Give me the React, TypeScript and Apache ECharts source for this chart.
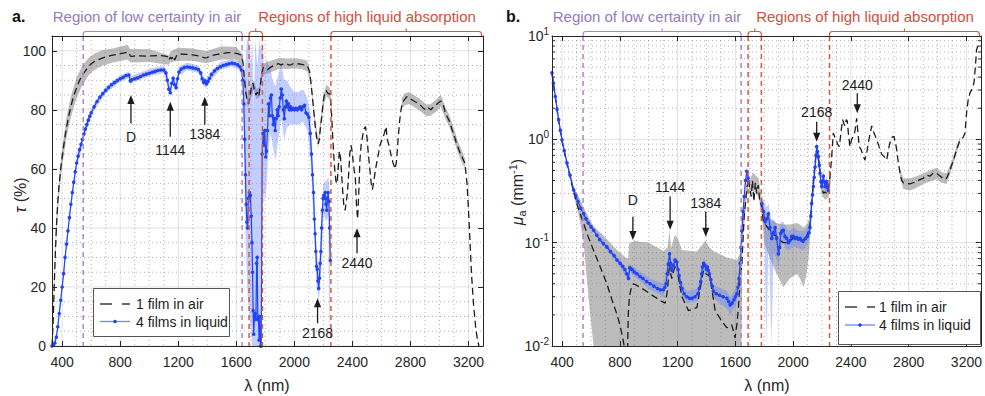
import React, { useEffect, useRef } from "react";
import * as echarts from "echarts";

type Pt = [number, number];
type Band = [number, number, number];

const FONT = '"Liberation Sans", Arial, Helvetica, sans-serif';
const C_AX = "#262626";
const C_BLACK = "#1c1c1c";
const C_BLUE = "#2142f5";
const C_GREY_BAND = "rgba(115,115,115,0.48)";
const C_BLUE_BAND = "rgba(95,125,255,0.38)";
const C_PURPLE = "#a68ac6";
const C_RED = "#d9563f";
const C_PURPLE_TXT = "#9678be";
const C_RED_TXT = "#d24f3c";

const xTickValues = [400, 800, 1200, 1600, 2000, 2400, 2800, 3200];
const xMinorValues = [500, 600, 700, 900, 1000, 1100, 1300, 1400, 1500, 1700, 1800, 1900, 2100, 2200, 2300, 2500, 2600, 2700, 2900, 3000, 3100];
const yTickValuesA = [0, 20, 40, 60, 80, 100];
const yMinorValuesA = [5, 10, 15, 25, 30, 35, 45, 50, 55, 65, 70, 75, 85, 90, 95];
const yTickValuesB = [0.01, 0.1, 1, 10];
const yMinorValuesB = [0.02, 0.03, 0.04, 0.05, 0.06, 0.07, 0.08, 0.09, 0.2, 0.3, 0.4, 0.5, 0.6, 0.7, 0.8, 0.9, 2, 3, 4, 5, 6, 7, 8, 9];

const lowCertaintyBounds = [545, 1640];
const absorptionBounds = [1688, 1780, 2252];
const bracketStart = [545, 1688, 2252];
const bracketEnd = [1640, 1780, 3290];
const bracketKind = [0, 1, 1];

// ---------- panel a : transmittance tau (%) ----------
const airTauA: Pt[] = [
  [330, 0], [338, 8], [345, 20], [352, 30], [360, 40], [370, 49], [380, 55], [390, 60], [400, 64], [410, 67.5],
  [420, 71], [430, 74], [440, 76.5], [450, 79], [460, 81], [470, 83], [480, 84.7], [500, 87.5], [520, 90], [540, 91.8],
  [560, 93.2], [580, 94.5], [600, 95.6], [620, 96.3], [650, 97], [680, 97.6], [710, 98], [740, 98.4], [770, 98.7], [800, 99],
  [830, 99.3], [850, 99.5], [860, 99.4], [870, 98.2], [885, 98.1], [900, 98.3], [940, 98.3], [980, 98.2], [1020, 98.3], [1060, 98.4],
  [1100, 98.3], [1125, 98], [1135, 96.8], [1145, 97.8], [1155, 97.2], [1165, 98.3], [1175, 96.9], [1190, 98.5], [1215, 98.9], [1250, 98.8],
  [1300, 98.6], [1350, 98.2], [1380, 97.6], [1400, 97.7], [1430, 98.4], [1470, 98.8], [1510, 99.1], [1540, 99.4], [1580, 99.3], [1610, 99],
  [1630, 98.6], [1645, 96.5], [1655, 91], [1665, 86], [1675, 83], [1685, 82], [1695, 84.5], [1705, 88], [1715, 89], [1725, 86.5],
  [1735, 85], [1745, 86], [1755, 84.5], [1765, 88], [1775, 92], [1785, 94.3], [1800, 94], [1815, 93.6], [1830, 94.2], [1850, 94.8],
  [1870, 95.4], [1890, 95.6], [1910, 95.2], [1930, 95.7], [1950, 95.5], [1970, 95.1], [1990, 95.6], [2010, 95.3], [2030, 95.6], [2050, 95.4],
  [2070, 95.2], [2090, 94.8], [2105, 93], [2115, 89], [2125, 84], [2135, 79], [2145, 74], [2155, 70], [2165, 68.5], [2172, 70],
  [2180, 74], [2190, 78], [2200, 83], [2210, 86], [2220, 86.5], [2232, 85.5], [2245, 85.5], [2255, 80], [2263, 72], [2270, 66],
  [2278, 60], [2286, 56], [2294, 55], [2302, 60], [2310, 66], [2318, 64], [2326, 58], [2334, 52], [2342, 47], [2350, 46],
  [2358, 49], [2366, 52], [2374, 58], [2382, 65], [2390, 68], [2398, 66], [2406, 62], [2414, 59], [2420, 57], [2428, 48],
  [2436, 43], [2444, 52], [2452, 63], [2460, 68], [2470, 71], [2480, 73.5], [2490, 74.3], [2500, 71], [2510, 65], [2520, 60],
  [2530, 55], [2538, 53], [2548, 56], [2560, 60], [2575, 64], [2590, 68], [2605, 70], [2620, 72], [2632, 74.3], [2640, 70],
  [2652, 68], [2665, 65], [2680, 62], [2695, 60], [2705, 63], [2715, 70], [2725, 76], [2735, 80], [2745, 82.5], [2760, 83.5],
  [2775, 84.5], [2790, 84], [2810, 83.4], [2830, 82.8], [2850, 82.3], [2870, 81.5], [2890, 80.5], [2910, 79.8], [2925, 80.6], [2940, 80],
  [2955, 80.8], [2970, 81.2], [2990, 82.3], [3010, 83], [3025, 82], [3040, 79], [3055, 77.5], [3070, 76], [3085, 73.5], [3100, 71.5],
  [3115, 69], [3130, 67], [3145, 65], [3160, 63.5], [3175, 62], [3190, 55], [3200, 46], [3210, 36], [3220, 25], [3235, 14],
  [3250, 6], [3262, 2], [3272, 0],
];

const airBandA1: Band[] = [
  [330, 0, 0], [345, 17, 23], [360, 37, 43], [380, 52, 58], [400, 61, 67], [430, 70.5, 77.5], [460, 77.5, 84.5], [500, 84, 91],
  [540, 88.5, 95], [580, 91.5, 97.5], [620, 93.5, 99], [680, 95, 100.3], [750, 96, 100.8], [850, 97, 102], [870, 96, 100.6],
  [1000, 96.2, 100.5], [1135, 95.3, 98.5], [1145, 96, 99.6], [1165, 96.3, 100.3], [1200, 96.5, 101], [1300, 96.6, 100.8],
  [1390, 95.8, 99.8], [1500, 97, 101.5], [1600, 97, 101.3], [1640, 95, 99], [1655, 88.5, 93], [1680, 80.5, 84], [1700, 84, 88],
  [1720, 86.5, 90], [1740, 83.5, 87], [1760, 84.5, 88], [1780, 91.5, 95.5], [1800, 92, 96], [1850, 93, 96.8], [1900, 94, 97.6],
  [1950, 93.8, 97.4], [2000, 94, 97.5], [2050, 93.8, 97.2], [2090, 93, 96.6], [2110, 89.5, 92.5], [2140, 75, 78], [2165, 67, 70],
  [2200, 81, 85], [2220, 84.5, 88.5], [2245, 83.5, 87.5], [2258, 78, 81],
];
const airBandA2: Band[] = [
  [2740, 80.5, 84], [2760, 81.5, 85.5], [2790, 82, 86], [2830, 80.8, 84.8], [2870, 79.5, 83.5], [2910, 77.8, 81.8], [2940, 78, 82],
  [2970, 79.2, 83.2], [3010, 81, 85], [3040, 77, 81], [3070, 74, 78], [3100, 69.5, 73.5], [3130, 65, 69], [3160, 61.5, 65.5], [3175, 60.5, 63.5],
];

const liquidTauA: Pt[] = [
  [330, 0], [340, 0.3], [350, 1], [360, 3], [370, 6.5], [380, 11], [390, 15.5], [400, 20], [410, 24.5], [420, 30],
  [430, 34.5], [440, 39], [450, 43.5], [460, 48], [470, 52], [480, 55.5], [490, 59], [500, 62], [510, 64.3], [520, 66.5],
  [530, 68.3], [540, 70], [550, 71.8], [560, 73.5], [570, 75], [580, 76.5], [590, 77.8], [600, 79], [620, 81], [640, 82.8],
  [660, 84.3], [680, 85.5], [700, 86.6], [720, 87.6], [740, 88.5], [760, 89.2], [780, 89.9], [800, 90.5], [820, 91], [840, 91.6],
  [860, 91.8], [870, 89.8], [880, 90.2], [900, 90.5], [920, 90.8], [940, 91.3], [960, 91.8], [980, 92.1], [1000, 92.4], [1020, 92.7],
  [1040, 93], [1060, 93.3], [1080, 93.5], [1100, 93.5], [1115, 92.5], [1125, 90], [1135, 87], [1145, 85.8], [1155, 89], [1165, 90.7],
  [1175, 88.5], [1185, 87.5], [1195, 90.5], [1205, 92.8], [1220, 93.8], [1240, 94.3], [1260, 94.5], [1280, 94.4], [1300, 94.2], [1320, 94],
  [1340, 93.6], [1355, 92.5], [1365, 90.5], [1375, 89.3], [1385, 89.8], [1395, 88.8], [1405, 89.6], [1415, 90.6], [1430, 92], [1450, 93.2],
  [1470, 94], [1490, 94.6], [1510, 95], [1530, 95.3], [1550, 95.6], [1570, 95.8], [1590, 95.6], [1610, 95.2], [1625, 94.6], [1635, 93.5],
  [1645, 90], [1652, 82], [1658, 70], [1663, 58], [1668, 48], [1673, 42], [1678, 40], [1683, 50], [1690, 52], [1697, 51],
  [1703, 44], [1708, 35], [1712, 25], [1716, 12], [1720, 4], [1725, 10], [1730, 11], [1735, 9], [1740, 28], [1744, 30],
  [1748, 9], [1752, 10], [1757, 2], [1762, 10], [1767, 0], [1772, 0], [1778, 65], [1784, 72], [1790, 68], [1796, 73],
  [1803, 64], [1808, 66], [1815, 73], [1822, 82], [1828, 78], [1835, 84], [1842, 85], [1848, 78], [1855, 75], [1862, 77],
  [1868, 73], [1875, 77], [1882, 80], [1889, 78], [1896, 81], [1903, 84], [1910, 87], [1917, 85], [1924, 80], [1931, 77],
  [1938, 81], [1945, 83], [1952, 81], [1959, 82], [1966, 80], [1973, 81], [1980, 80], [1990, 80.5], [2000, 80], [2010, 80.5],
  [2020, 80], [2030, 80.5], [2040, 81], [2050, 80], [2060, 81], [2070, 81.5], [2080, 79], [2090, 78.5], [2100, 77.5], [2110, 72],
  [2118, 65], [2125, 58], [2132, 52], [2138, 43], [2143, 38], [2148, 32], [2153, 27], [2158, 26], [2163, 22], [2168, 19.5],
  [2173, 23], [2178, 28], [2183, 32], [2188, 40], [2193, 46], [2198, 50], [2203, 51], [2208, 50], [2213, 52], [2218, 48],
  [2223, 46], [2228, 50], [2233, 52], [2238, 49], [2243, 40], [2248, 29],
];

const liquidBandA: Band[] = [
  [330, 0, 0.5], [360, 2, 4], [400, 18.5, 21.5], [450, 42, 45], [500, 60.5, 63.5], [560, 72, 75], [620, 79.8, 82.3],
  [700, 85.5, 87.8], [800, 89.5, 91.7], [860, 90.8, 93], [870, 88.6, 91.3], [900, 89.5, 92], [1000, 91.4, 93.8], [1100, 92.5, 95],
  [1120, 89.5, 93.5], [1145, 84.5, 87.5], [1165, 89.6, 92.3], [1185, 86, 89.5], [1205, 91.5, 94.5], [1260, 93.4, 96],
  [1340, 92.5, 95], [1375, 88, 91], [1395, 87.5, 90.5], [1415, 89.5, 92.5], [1490, 93.5, 96.2], [1570, 94.7, 97.2],
  [1625, 93.5, 96.2], [1645, 88, 92], [1655, 60, 90], [1665, 35, 98], [1675, 20, 104], [1690, 10, 103], [1700, 5, 95],
  [1710, 0, 104], [1720, 0, 80], [1730, 0, 104], [1745, 0, 95], [1760, 0, 104], [1770, 0, 100], [1780, 45, 104],
  [1790, 52, 95], [1800, 50, 92], [1810, 55, 98], [1820, 65, 95], [1835, 72, 94], [1850, 68, 90], [1870, 63, 88],
  [1890, 70, 92], [1910, 77, 96], [1930, 70, 90], [1950, 74, 90], [1970, 75, 88], [2000, 75, 86], [2030, 75, 86],
  [2060, 76, 87], [2090, 73, 84], [2110, 64, 79], [2130, 45, 60], [2150, 22, 35], [2168, 15, 25], [2185, 25, 42],
  [2200, 45, 55], [2220, 42, 56], [2235, 44, 57], [2240, 0, 55], [2248, 25, 35],
];

// ---------- panel b : absorption coefficient mu_a (mm^-1) ----------
const airMuB: Pt[] = [
  [330, 4.3], [353, 2.55], [376, 1.5], [399, 0.96], [434, 0.57], [480, 0.31], [510, 0.22], [549, 0.153], [580, 0.115], [618, 0.084],
  [660, 0.06], [710, 0.04], [745, 0.028], [779, 0.0204], [800, 0.016], [820, 0.012], [832, 0.0095], [840, 0.005], [852, 0.007], [858, 0.02],
  [866, 0.03], [880, 0.037], [895, 0.04], [941, 0.037], [1010, 0.032], [1079, 0.0275], [1114, 0.026], [1130, 0.035], [1144, 0.063], [1152, 0.05],
  [1160, 0.045], [1175, 0.055], [1195, 0.063], [1212, 0.04], [1230, 0.03], [1275, 0.022], [1333, 0.0235], [1355, 0.035], [1379, 0.054], [1395, 0.05],
  [1425, 0.047], [1445, 0.03], [1460, 0.022], [1506, 0.0174], [1541, 0.015], [1575, 0.016], [1598, 0.012], [1612, 0.017], [1621, 0.0235], [1633, 0.045],
  [1645, 0.063], [1661, 0.18], [1679, 0.33], [1690, 0.42], [1700, 0.33], [1710, 0.28], [1718, 0.4], [1728, 0.25], [1738, 0.38], [1748, 0.3],
  [1758, 0.36], [1768, 0.26], [1783, 0.22], [1793, 0.16], [1815, 0.145], [1840, 0.13], [1863, 0.12], [1886, 0.115], [1910, 0.105], [1932, 0.1],
  [1955, 0.1], [1978, 0.105], [2001, 0.11], [2025, 0.115], [2048, 0.11], [2071, 0.1], [2094, 0.115], [2117, 0.15], [2140, 0.4], [2152, 0.6],
  [2163, 0.8], [2175, 0.65], [2186, 0.5], [2198, 0.34], [2210, 0.3], [2221, 0.31], [2233, 0.3], [2244, 0.32], [2256, 0.45], [2267, 0.68],
  [2278, 1.15], [2288, 1.05], [2296, 1.0], [2308, 0.9], [2320, 0.85], [2332, 1.2], [2343, 1.55], [2352, 1.4], [2360, 1.35], [2368, 1.55],
  [2375, 1.5], [2385, 1.05], [2394, 0.85], [2405, 1.0], [2417, 1.07], [2428, 1.2], [2440, 1.6], [2450, 1.1], [2458, 0.85], [2470, 0.8],
  [2484, 0.7], [2497, 0.63], [2510, 0.75], [2525, 1.0], [2544, 1.35], [2560, 1.15], [2578, 1.0], [2595, 0.85], [2613, 0.72], [2630, 0.68],
  [2648, 0.63], [2660, 0.8], [2671, 0.93], [2685, 1.05], [2698, 1.07], [2710, 0.9], [2717, 0.8], [2728, 0.6], [2740, 0.47], [2752, 0.4],
  [2763, 0.38], [2785, 0.375], [2809, 0.37], [2830, 0.38], [2855, 0.39], [2880, 0.41], [2901, 0.42], [2925, 0.45], [2947, 0.44], [2970, 0.47],
  [2994, 0.47], [3010, 0.45], [3028, 0.43], [3045, 0.41], [3063, 0.42], [3085, 0.5], [3109, 0.62], [3130, 0.78], [3155, 0.98], [3178, 1.05],
  [3190, 1.15], [3201, 1.8], [3212, 2.4], [3224, 2.8], [3240, 3.1], [3252, 3.5], [3262, 5.0], [3270, 7.4], [3280, 8.0],
];

const airBandB1: Band[] = [
  [330, 4.1, 4.6], [399, 0.9, 1.02], [480, 0.29, 0.34], [520, 0.17, 0.27], [549, 0.1, 0.22], [572, 0.043, 0.19], [595, 0.02, 0.165],
  [618, 0.005, 0.145], [700, 0.005, 0.112], [780, 0.005, 0.085], [840, 0.005, 0.072], [858, 0.005, 0.07], [864, 0.005, 0.098],
  [900, 0.005, 0.104], [1000, 0.005, 0.1], [1102, 0.005, 0.083], [1130, 0.005, 0.09], [1144, 0.005, 0.132], [1155, 0.005, 0.09],
  [1165, 0.005, 0.1], [1182, 0.005, 0.12], [1200, 0.005, 0.11], [1230, 0.005, 0.085], [1333, 0.005, 0.082], [1370, 0.005, 0.095],
  [1392, 0.005, 0.105], [1420, 0.005, 0.09], [1448, 0.005, 0.083], [1541, 0.005, 0.072], [1610, 0.005, 0.068], [1633, 0.005, 0.08],
  [1642, 0.005, 0.13], [1650, 0.1, 0.2], [1661, 0.15, 0.22], [1679, 0.28, 0.4], [1690, 0.36, 0.48], [1700, 0.28, 0.4], [1720, 0.32, 0.48],
  [1740, 0.3, 0.45], [1760, 0.28, 0.42], [1783, 0.18, 0.27], [1800, 0.1, 0.21], [1840, 0.07, 0.17], [1886, 0.05, 0.155], [1932, 0.037, 0.15],
  [1978, 0.045, 0.15], [2025, 0.05, 0.155], [2048, 0.045, 0.15], [2071, 0.037, 0.14], [2094, 0.05, 0.15], [2110, 0.08, 0.17],
  [2125, 0.16, 0.25], [2140, 0.33, 0.45], [2163, 0.7, 0.9], [2186, 0.42, 0.58], [2198, 0.29, 0.4], [2221, 0.26, 0.36], [2244, 0.27, 0.38], [2260, 0.4, 0.5],
];
const airBandB2: Band[] = [
  [2740, 0.43, 0.52], [2763, 0.33, 0.42], [2809, 0.32, 0.42], [2855, 0.34, 0.44], [2901, 0.37, 0.47], [2947, 0.39, 0.5], [2994, 0.41, 0.53],
  [3028, 0.38, 0.48], [3063, 0.37, 0.47], [3109, 0.57, 0.68], [3130, 0.72, 0.85], [3155, 0.92, 1.05],
];

const liquidMuB1: Pt[] = [
  [330, 4.4], [340, 3.5], [353, 2.6], [365, 1.95], [376, 1.55], [388, 1.22], [399, 0.99], [415, 0.78], [434, 0.59], [455, 0.45],
  [480, 0.324], [495, 0.285], [510, 0.25], [530, 0.215], [549, 0.19], [565, 0.17], [580, 0.155], [600, 0.142], [618, 0.132], [640, 0.118],
  [660, 0.107], [685, 0.098], [710, 0.091], [735, 0.082], [760, 0.075], [780, 0.068], [802, 0.063], [820, 0.059], [835, 0.055], [848, 0.05],
  [860, 0.045], [868, 0.057], [876, 0.056], [885, 0.055], [900, 0.052], [918, 0.05], [940, 0.047], [960, 0.045], [985, 0.042], [1010, 0.04],
  [1035, 0.038], [1060, 0.036], [1080, 0.035], [1102, 0.035], [1112, 0.037], [1120, 0.04], [1128, 0.05], [1135, 0.062], [1144, 0.078], [1152, 0.063],
  [1160, 0.054], [1170, 0.06], [1182, 0.068], [1195, 0.065], [1203, 0.055], [1210, 0.048], [1220, 0.041], [1230, 0.036], [1245, 0.032], [1264, 0.03],
  [1282, 0.029], [1300, 0.029], [1320, 0.03], [1340, 0.032], [1350, 0.036], [1360, 0.042], [1366, 0.05], [1372, 0.058], [1380, 0.063], [1390, 0.06],
  [1400, 0.055], [1406, 0.058], [1412, 0.054], [1420, 0.05], [1430, 0.044], [1440, 0.038], [1448, 0.034], [1468, 0.032], [1490, 0.031], [1515, 0.03],
  [1541, 0.029], [1553, 0.027], [1564, 0.025], [1577, 0.026], [1590, 0.028], [1600, 0.03], [1610, 0.032], [1618, 0.037], [1625, 0.045], [1633, 0.063],
  [1639, 0.09], [1645, 0.13], [1653, 0.2], [1661, 0.28], [1670, 0.4], [1679, 0.49], [1688, 0.42],
];
const liquidMuB2: Pt[] = [
  [1783, 0.24], [1794, 0.2], [1806, 0.16], [1817, 0.17], [1829, 0.19], [1840, 0.14], [1852, 0.11], [1863, 0.125], [1875, 0.14], [1886, 0.11],
  [1898, 0.078], [1906, 0.09], [1914, 0.123], [1923, 0.13], [1932, 0.132], [1943, 0.115], [1955, 0.11], [1966, 0.1], [1978, 0.105], [1990, 0.115],
  [2001, 0.115], [2013, 0.11], [2025, 0.112], [2036, 0.108], [2048, 0.11], [2060, 0.105], [2071, 0.105], [2085, 0.11], [2099, 0.115], [2110, 0.125],
  [2117, 0.14], [2123, 0.18], [2128, 0.24], [2134, 0.29], [2140, 0.35], [2146, 0.43], [2152, 0.54], [2158, 0.7], [2163, 0.85], [2169, 0.76],
  [2175, 0.68], [2181, 0.56], [2186, 0.47], [2192, 0.39], [2198, 0.35], [2204, 0.39], [2209, 0.44], [2215, 0.39], [2221, 0.35], [2227, 0.37],
  [2232, 0.39], [2238, 0.34], [2244, 0.32],
];

const liquidBandB1: Band[] = [
  [330, 4.2, 4.6], [399, 0.95, 1.03], [480, 0.31, 0.34], [549, 0.18, 0.2], [618, 0.125, 0.14], [710, 0.085, 0.097], [802, 0.058, 0.068],
  [860, 0.042, 0.049], [868, 0.052, 0.062], [918, 0.045, 0.055], [1010, 0.035, 0.045], [1102, 0.03, 0.04], [1144, 0.07, 0.087],
  [1160, 0.048, 0.06], [1182, 0.06, 0.076], [1230, 0.031, 0.041], [1264, 0.026, 0.034], [1340, 0.027, 0.036], [1380, 0.055, 0.07],
  [1412, 0.047, 0.06], [1448, 0.029, 0.039], [1541, 0.023, 0.034], [1564, 0.02, 0.03], [1610, 0.026, 0.037], [1633, 0.055, 0.072],
  [1645, 0.12, 0.14], [1661, 0.25, 0.3], [1679, 0.45, 0.53], [1688, 0.38, 0.46],
];
const liquidBandB2: Band[] = [
  [1783, 0.2, 0.29], [1800, 0.14, 0.25], [1815, 0.005, 0.22], [1830, 0.12, 0.24], [1850, 0.005, 0.16], [1863, 0.08, 0.17],
  [1886, 0.07, 0.15], [1898, 0.055, 0.1], [1914, 0.095, 0.16], [1932, 0.1, 0.16], [1955, 0.085, 0.135], [1978, 0.085, 0.13],
  [2001, 0.093, 0.14], [2036, 0.088, 0.13], [2071, 0.085, 0.13], [2099, 0.095, 0.14], [2117, 0.12, 0.16], [2140, 0.31, 0.39],
  [2163, 0.77, 0.93], [2186, 0.42, 0.52], [2198, 0.3, 0.4], [2209, 0.38, 0.5], [2221, 0.3, 0.4], [2232, 0.34, 0.44], [2244, 0.28, 0.36],
];

// ---------- annotations (arrow tip / tail / label anchor in data units) ----------
const arrowLabels = ["D", "1144", "1384", "2168", "2440"];
const arrowLambdaA = [874, 1145, 1383, 2160, 2432];
const arrowTipA = [85, 82.7, 84.4, 16.2, 39.9];
const arrowTailA = [75.4, 70.9, 74.9, 7.7, 31.4];
const arrowTextA = [70.9, 66.4, 71.8, 4.3, 28.0];
const arrowLambdaB = [890, 1148, 1395, 2163, 2444];
const arrowTipB = [0.106, 0.133, 0.114, 0.948, 1.79];
const arrowTailB = [0.178, 0.279, 0.2, 1.48, 2.79];
const arrowTextB = [0.259, 0.348, 0.244, 1.85, 3.36];

const NAME_AIR = "1 film in air";
const NAME_LIQ = "4 films in liquid";

function clamp(v: number, lo: number, hi: number) {
  return Math.min(Math.max(v, lo), hi);
}

function gridSeries(idx: number, xs: number[], ys: number[], yRef: number, major: boolean, edgeTicks: boolean) {
  const style = major
    ? { stroke: "rgba(0,0,0,0.12)", lineWidth: 1 }
    : { stroke: "rgba(0,0,0,0.30)", lineWidth: 1, lineDash: [1, 3] };
  return {
    type: "custom",
    xAxisIndex: idx,
    yAxisIndex: idx,
    silent: true,
    z: 1,
    data: [...xs.map((v) => [v, yRef, 0]), ...ys.map((v) => [1000, v, 1])],
    renderItem: (params: any, api: any) => {
      const cs = params.coordSys;
      if (api.value(2) === 0) {
        const px = api.coord([api.value(0), yRef])[0];
        return { type: "line", shape: { x1: px, y1: cs.y, x2: px, y2: cs.y + cs.height }, style };
      }
      const py = api.coord([1000, api.value(1)])[1];
      const children: any[] = [
        { type: "line", shape: { x1: cs.x, y1: py, x2: cs.x + cs.width, y2: py }, style },
      ];
      if (edgeTicks) {
        const ts = { stroke: C_AX, lineWidth: 1 };
        children.push({ type: "line", shape: { x1: cs.x, y1: py, x2: cs.x + 3, y2: py }, style: ts });
        children.push({ type: "line", shape: { x1: cs.x + cs.width - 3, y1: py, x2: cs.x + cs.width, y2: py }, style: ts });
      }
      return { type: "group", children };
    },
  };
}

function bandSeries(idx: number, band: Band[], color: string, yMin: number, yMax: number, z: number) {
  return {
    type: "custom",
    xAxisIndex: idx,
    yAxisIndex: idx,
    silent: true,
    z,
    data: [[1000, 1]],
    renderItem: (params: any, api: any) => {
      const top = band.map((b) => api.coord([b[0], clamp(b[2], yMin, yMax)]));
      const bot = band
        .slice()
        .reverse()
        .map((b) => api.coord([b[0], clamp(b[1], yMin, yMax)]));
      return { type: "polygon", shape: { points: top.concat(bot) }, style: { fill: color } };
    },
  };
}

function vlineSeries(idx: number, yRef: number) {
  const data = [
    ...lowCertaintyBounds.map((v) => [v, yRef, 0]),
    ...absorptionBounds.map((v) => [v, yRef, 1]),
  ];
  return {
    type: "custom",
    xAxisIndex: idx,
    yAxisIndex: idx,
    silent: true,
    z: 6,
    data,
    renderItem: (params: any, api: any) => {
      const cs = params.coordSys;
      const px = api.coord([api.value(0), yRef])[0];
      const col = api.value(2) === 0 ? C_PURPLE : C_RED;
      return {
        type: "line",
        shape: { x1: px, y1: cs.y, x2: px, y2: cs.y + cs.height },
        style: { stroke: col, lineWidth: 1.5, lineDash: [5, 4] },
      };
    },
  };
}

function bracketSeries(idx: number, yRef: number) {
  return {
    type: "custom",
    xAxisIndex: idx,
    yAxisIndex: idx,
    silent: true,
    z: 7,
    data: bracketStart.map((s, i) => [s, yRef, bracketEnd[i], bracketKind[i]]),
    renderItem: (params: any, api: any) => {
      const cs = params.coordSys;
      const x1 = api.coord([api.value(0), yRef])[0];
      const x2 = api.coord([api.value(2), yRef])[0];
      const col = api.value(3) === 0 ? C_PURPLE : C_RED;
      const y0 = cs.y;
      const yt = y0 - 4.5;
      const r = 2.5;
      const pts = [
        [x1, y0], [x1, yt + r], [x1 + 0.7, yt + 0.7], [x1 + r, yt],
        [x2 - r, yt], [x2 - 0.7, yt + 0.7], [x2, yt + r], [x2, y0],
      ];
      const xc = (x1 + x2) / 2;
      return {
        type: "group",
        children: [
          { type: "polyline", shape: { points: pts }, style: { stroke: col, lineWidth: 1.2, fill: "none" } },
          { type: "line", shape: { x1: xc, y1: yt, x2: xc, y2: yt - 3 }, style: { stroke: col, lineWidth: 1.2 } },
        ],
      };
    },
  };
}

function arrowSeries(idx: number, lam: number[], tip: number[], tail: number[], txt: number[]) {
  return {
    type: "custom",
    xAxisIndex: idx,
    yAxisIndex: idx,
    silent: true,
    z: 8,
    data: lam.map((l, i) => [l, tip[i], tail[i], txt[i], i]),
    renderItem: (params: any, api: any) => {
      const l = api.value(0);
      const pt = api.coord([l, api.value(1)]);
      const pb = api.coord([l, api.value(2)]);
      const pl = api.coord([l, api.value(3)]);
      const dir = pb[1] > pt[1] ? 1 : -1;
      const head = 9;
      const hw = 3.6;
      return {
        type: "group",
        children: [
          {
            type: "line",
            shape: { x1: pt[0], y1: pt[1] + dir * (head - 1), x2: pb[0], y2: pb[1] },
            style: { stroke: C_BLACK, lineWidth: 1.3 },
          },
          {
            type: "polygon",
            shape: { points: [[pt[0], pt[1]], [pt[0] - hw, pt[1] + dir * head], [pt[0] + hw, pt[1] + dir * head]] },
            style: { fill: C_BLACK },
          },
          {
            type: "text",
            x: pl[0],
            y: pl[1],
            style: {
              text: arrowLabels[api.value(4)],
              fill: C_BLACK,
              font: `14px ${FONT}`,
              textAlign: "center",
              textVerticalAlign: "middle",
              align: "center",
              verticalAlign: "middle",
            },
          },
        ],
      };
    },
  };
}

function xAxisDef(gridIndex: number, position: string, labels: boolean) {
  return {
    type: "value",
    gridIndex,
    min: 330,
    max: 3300,
    position,
    z: 10,
    axisLine: { show: true, onZero: false, lineStyle: { color: C_AX, width: 1 } },
    axisTick: { show: true, inside: true, length: 5, customValues: xTickValues, lineStyle: { color: C_AX } },
    axisLabel: labels
      ? { show: true, customValues: xTickValues, formatter: (v: number) => String(v), fontSize: 14, color: C_AX, fontFamily: FONT, margin: 9 }
      : { show: false },
    splitLine: { show: false },
  };
}

function yAxisA(position: string, labels: boolean) {
  return {
    type: "value",
    gridIndex: 0,
    min: 0,
    max: 105,
    position,
    z: 10,
    axisLine: { show: true, onZero: false, lineStyle: { color: C_AX, width: 1 } },
    axisTick: { show: true, inside: true, length: 5, customValues: yTickValuesA, lineStyle: { color: C_AX } },
    axisLabel: labels
      ? { show: true, customValues: yTickValuesA, formatter: (v: number) => String(v), fontSize: 14, color: C_AX, fontFamily: FONT, margin: 6 }
      : { show: false },
    splitLine: { show: false },
  };
}

function yAxisB(position: string, labels: boolean) {
  return {
    type: "log",
    logBase: 10,
    gridIndex: 1,
    min: 0.01,
    max: 10,
    position,
    z: 10,
    axisLine: { show: true, onZero: false, lineStyle: { color: C_AX, width: 1 } },
    axisTick: { show: true, inside: true, length: 5, lineStyle: { color: C_AX } },
    axisLabel: labels
      ? {
          show: true,
          margin: 3,
          formatter: (v: number) => `{b|10}{s|${Math.round(Math.log10(v))}}`,
          rich: {
            b: { fontSize: 14, fontFamily: FONT, color: C_AX },
            s: { fontSize: 10, fontFamily: FONT, color: C_AX, padding: [0, 0, 10, 0] },
          },
        }
      : { show: false },
    splitLine: { show: false },
  };
}

function buildOption() {
  const liquidMuB: any[] = [...liquidMuB1, [1735, "-"], ...liquidMuB2];
  const series: any[] = [
    // panel a
    gridSeries(0, xTickValues, yTickValuesA, 50, true, false),
    gridSeries(0, xMinorValues, yMinorValuesA, 50, false, false),
    bandSeries(0, airBandA1, C_GREY_BAND, 0, 105, 2),
    bandSeries(0, airBandA2, C_GREY_BAND, 0, 105, 2),
    bandSeries(0, liquidBandA, C_BLUE_BAND, 0, 105, 3),
    {
      name: NAME_AIR, type: "line", xAxisIndex: 0, yAxisIndex: 0, data: airTauA, z: 4, silent: true,
      showSymbol: false, symbol: "none", clip: true,
      lineStyle: { color: C_BLACK, width: 1.3, type: [7, 4] },
    },
    {
      name: NAME_LIQ, type: "line", xAxisIndex: 0, yAxisIndex: 0, data: liquidTauA, z: 5, silent: true,
      symbol: "circle", symbolSize: 3.6, showSymbol: true, clip: true,
      itemStyle: { color: C_BLUE }, lineStyle: { color: C_BLUE, width: 1.2 },
    },
    vlineSeries(0, 50),
    bracketSeries(0, 50),
    arrowSeries(0, arrowLambdaA, arrowTipA, arrowTailA, arrowTextA),
    // panel b
    gridSeries(1, xTickValues, yTickValuesB.slice(1, 3), 1, true, false),
    gridSeries(1, xMinorValues, yMinorValuesB, 1, false, true),
    bandSeries(1, airBandB1, C_GREY_BAND, 0.01, 10, 2),
    bandSeries(1, airBandB2, C_GREY_BAND, 0.01, 10, 2),
    bandSeries(1, liquidBandB1, C_BLUE_BAND, 0.01, 10, 3),
    bandSeries(1, liquidBandB2, C_BLUE_BAND, 0.01, 10, 3),
    {
      name: NAME_AIR, type: "line", xAxisIndex: 1, yAxisIndex: 1, data: airMuB, z: 4, silent: true,
      showSymbol: false, symbol: "none", clip: true,
      lineStyle: { color: C_BLACK, width: 1.3, type: [7, 4] },
    },
    {
      name: NAME_LIQ, type: "line", xAxisIndex: 1, yAxisIndex: 1, data: liquidMuB, z: 5, silent: true,
      symbol: "circle", symbolSize: 3.6, showSymbol: true, clip: true, connectNulls: false,
      itemStyle: { color: C_BLUE }, lineStyle: { color: C_BLUE, width: 1.2 },
    },
    vlineSeries(1, 1),
    bracketSeries(1, 1),
    arrowSeries(1, arrowLambdaB, arrowTipB, arrowTailB, arrowTextB),
  ];

  const txt = (text: string, x: number, y: number, size: number, fill: string, extra: any = {}) => ({
    type: "text",
    x,
    y,
    z: 100,
    style: {
      text,
      fill,
      font: `${extra.weight || "normal"} ${size}px ${FONT}`,
      textAlign: extra.align || "center",
      textVerticalAlign: "middle",
      align: extra.align || "center",
      verticalAlign: "middle",
    },
  });

  const legendBox = (x: number, y: number, w: number, h: number, r1: number, r2: number, ix: number, tx: number) => [
    { type: "rect", z: 100, shape: { x, y, width: w, height: h }, style: { fill: "#fff", stroke: "#555", lineWidth: 1 } },
    { type: "line", z: 101, shape: { x1: ix, y1: r1, x2: ix + 12, y2: r1 }, style: { stroke: C_BLACK, lineWidth: 1.3 } },
    { type: "line", z: 101, shape: { x1: ix + 22, y1: r1, x2: ix + 30, y2: r1 }, style: { stroke: C_BLACK, lineWidth: 1.3 } },
    { type: "line", z: 101, shape: { x1: ix, y1: r2, x2: ix + 30, y2: r2 }, style: { stroke: "#6f86f5", lineWidth: 1.3 } },
    { type: "circle", z: 102, shape: { cx: ix + 15, cy: r2, r: 1.8 }, style: { fill: C_BLUE } },
    txt(NAME_AIR, tx, r1, 14, C_BLACK, { align: "left" }),
    txt(NAME_LIQ, tx, r2, 14, C_BLACK, { align: "left" }),
  ];

  const graphic: any[] = [
    txt("a.", 12, 16, 16, "#111", { weight: "bold", align: "left" }),
    txt("b.", 506, 16, 16, "#111", { weight: "bold", align: "left" }),
    txt("Region of low certainty in air", 147, 16, 15, C_PURPLE_TXT),
    txt("Regions of high liquid absorption", 367, 16, 15, C_RED_TXT),
    txt("Region of low certainty in air", 647, 16, 15, C_PURPLE_TXT),
    txt("Regions of high liquid absorption", 865, 16, 15, C_RED_TXT),
    txt("λ (nm)", 267, 385, 16, C_AX),
    txt("λ (nm)", 767, 385, 16, C_AX),
    {
      type: "text",
      x: 20,
      y: 195,
      rotation: Math.PI / 2,
      z: 100,
      style: {
        text: "{i|τ}{n| (%)}",
        rich: {
          i: { fontSize: 16, fontStyle: "italic", fontFamily: FONT, fill: C_AX, color: C_AX },
          n: { fontSize: 16, fontFamily: FONT, fill: C_AX, color: C_AX },
        },
        textAlign: "center",
        textVerticalAlign: "middle",
        align: "center",
        verticalAlign: "middle",
      },
    },
    {
      type: "text",
      x: 517,
      y: 192,
      rotation: Math.PI / 2,
      z: 100,
      style: {
        text: "{i|μ}{sub|a}{n| (mm}{sup|-1}{n|)}",
        rich: {
          i: { fontSize: 16, fontStyle: "italic", fontFamily: FONT, fill: C_AX, color: C_AX },
          sub: { fontSize: 11, fontFamily: FONT, fill: C_AX, color: C_AX, padding: [9, 0, 0, 0] },
          n: { fontSize: 16, fontFamily: FONT, fill: C_AX, color: C_AX },
          sup: { fontSize: 11, fontFamily: FONT, fill: C_AX, color: C_AX, padding: [0, 0, 9, 0] },
        },
        textAlign: "center",
        textVerticalAlign: "middle",
        align: "center",
        verticalAlign: "middle",
      },
    },
    ...legendBox(93.5, 288.5, 136, 48, 304, 321.5, 100, 136),
    ...legendBox(838.5, 291.5, 142, 53, 307, 325, 845, 879),
  ];

  return {
    animation: false,
    backgroundColor: "#ffffff",
    textStyle: { fontFamily: FONT },
    grid: [
      { left: 52, top: 36, width: 431, height: 310 },
      { left: 552, top: 36, width: 429, height: 310 },
    ],
    xAxis: [xAxisDef(0, "bottom", true), xAxisDef(1, "bottom", true), xAxisDef(0, "top", false), xAxisDef(1, "top", false)],
    yAxis: [yAxisA("left", true), yAxisB("left", true), yAxisA("right", false), yAxisB("right", false)],
    series,
    graphic,
  };
}

export default function App() {
  const ref = useRef<HTMLDivElement>(null);
  useEffect(() => {
    if (!ref.current) return;
    const chart = echarts.init(ref.current, null, { renderer: "svg" });
    chart.setOption(buildOption() as any);
    return () => chart.dispose();
  }, []);
  return (
    <div
      ref={ref}
      style={{ position: "fixed", left: 0, top: 0, width: 985, height: 396, background: "#fff" }}
    />
  );
}
